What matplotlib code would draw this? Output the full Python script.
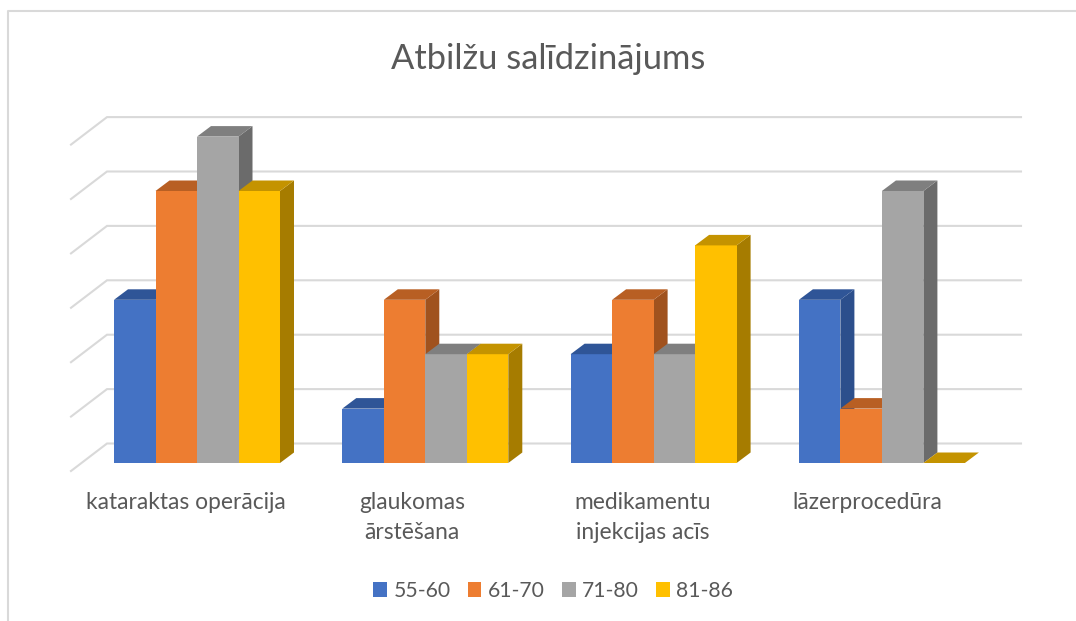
import matplotlib.pyplot as plt
from matplotlib.patches import Patch

plt.rcParams['font.family'] = ['Lato', 'DejaVu Sans']

# Data
title = 'Atbilžu salīdzinājums'
categories = ['kataraktas operācija', 'glaukomas\nārstēšana', 'medikamentu\ninjekcijas acīs', 'lāzerprocedūra']
series = ['55-60', '61-70', '71-80', '81-86']
v_55_60 = [3, 1, 2, 3]
v_61_70 = [5, 3, 3, 1]
v_71_80 = [6, 2, 2, 5]
v_81_86 = [5, 2, 4, 0]
grid_values = [0, 1, 2, 3, 4, 5, 6]

values = [v_55_60, v_61_70, v_71_80, v_81_86]
front_colors = ['#4472C4', '#ED7D31', '#A5A5A5', '#FFC000']
top_colors = ['#2F5597', '#B85F23', '#7F7F7F', '#C49300']
side_colors = ['#2C4F8C', '#A0521E', '#6B6B6B', '#A67C00']

# Pixel layout of the fake 3D chart
W, H = 1076, 621
px_cat = 228.3
px_val = 54.4
x0_px = 197
y0_px = 463
label_shift = [11, 13, 11, 15]

fig = plt.figure(figsize=(W / 100, H / 100), dpi=100, facecolor='white')
ax = fig.add_axes([0, 0, 1, 1])
ax.set_xlim(-x0_px / px_cat, (W - x0_px) / px_cat)
ax.set_ylim((y0_px - H) / px_val, y0_px / px_val)
ax.axis('off')

dx_px = lambda p: p / px_cat
dy_px = lambda p: p / px_val

# Outer chart frame
ax.plot([dx_px(8 - x0_px), dx_px(8 - x0_px), dx_px(W - x0_px)],
        [dy_px(y0_px - H), dy_px(y0_px - 11.5), dy_px(y0_px - 11.5)],
        color='#D9D9D9', lw=1.5, zorder=1)

# Gridlines: floor front edge, then along the back wall
grid_left = dx_px(107 - x0_px)
grid_right = dx_px(1021 - x0_px)
wall_left = dx_px(71 - x0_px)
back_lift = dy_px(19.5)
front_drop = dy_px(8)
for g in grid_values:
    ax.plot([wall_left, grid_left, grid_right],
            [g - front_drop, g + back_lift, g + back_lift],
            color='#D9D9D9', lw=1.5, zorder=2, solid_joinstyle='miter')

# Bars with front, side and top faces
bar_w = 41.5 / px_cat
depth_x = dx_px(14)
depth_y = dy_px(10.5)
for i in range(len(categories)):
    for j in range(len(series)):
        left = i + (j - 2) * bar_w
        right = left + bar_w
        v = values[j][i]
        z = 3 + i + j * 0.1
        if v > 0:
            ax.fill([right, right + depth_x, right + depth_x, right],
                    [0, depth_y, v + depth_y, v], color=side_colors[j], lw=0, zorder=z)
            ax.fill([left, right, right, left], [0, 0, v, v], color=front_colors[j], lw=0, zorder=z)
        ax.fill([left, right, right + depth_x, left + depth_x],
                [v, v, v + depth_y, v + depth_y], color=top_colors[j], lw=0, zorder=z)

# Category labels
for i, c in enumerate(categories):
    ax.text(i - dx_px(label_shift[i]), dy_px(-29), c, ha='center', va='top', color='#595959',
            fontsize=16.4, linespacing=1.55)

ax.text(dx_px(548 - x0_px), dy_px(y0_px - 59), title, ha='center', va='center',
        color='#595959', fontsize=24.8)

handles = [Patch(facecolor=c, edgecolor='none') for c in front_colors]
ax.legend(handles, series, loc='center', bbox_to_anchor=(553 / W, 1 - 591 / H), ncol=4,
          frameon=False, fontsize=15.2, labelcolor='#595959', handlelength=0.66,
          handleheight=0.66, handletextpad=0.3, columnspacing=0.8)

fig.savefig('out.png', dpi=100)
